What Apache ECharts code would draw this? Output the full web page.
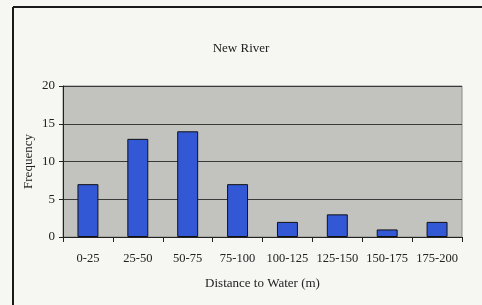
<!DOCTYPE html>
<html style="height: 100%">
<head>
    <meta charset="utf-8">
</head>
<body style="height: 100%; margin: 0; background: #f6f6f3">
<div id="river_container" style="height: 305px;width: 482px"></div>
<script src="https://cdn.jsdelivr.net/npm/echarts@6/dist/echarts.min.js"></script>
<script type="text/javascript">
    var categories = ['0-25', '25-50', '50-75', '75-100', '100-125', '125-150', '150-175', '175-200'];
    var frequency = [7, 13, 14, 7, 2, 3, 1, 2];
    var yTicks = [0, 5, 10, 15, 20];

    var river_dom = document.getElementById("river_container");
    var river_chart = echarts.init(river_dom);
    var river_font = '"Liberation Serif", "DejaVu Serif", serif';

    var river_option = {
        backgroundColor: '#f6f6f3',
        animation: false,
        title: {
            text: 'New River',
            left: 'center',
            top: 37,
            textStyle: {
                fontFamily: river_font,
                fontSize: 13,
                fontWeight: 'normal',
                color: '#222'
            }
        },
        // frame: left + top lines
        graphic: [
            { type: 'line', shape: { x1: 13, y1: 7, x2: 482, y2: 7 }, style: { stroke: '#1a1a1a', lineWidth: 2 } },
            { type: 'line', shape: { x1: 13, y1: 7, x2: 13, y2: 305 }, style: { stroke: '#1a1a1a', lineWidth: 2 } }
        ],
        grid: {
            left: 63,
            right: 20,
            top: 86,
            bottom: 68,
            show: true,
            backgroundColor: '#c2c2be',
            borderColor: '#8a8a88',
            borderWidth: 1
        },
        xAxis: {
            type: 'category',
            data: categories,
            name: 'Distance to Water (m)',
            nameLocation: 'middle',
            nameGap: 40,
            nameTextStyle: { fontFamily: river_font, fontSize: 13, color: '#222' },
            axisLine: { lineStyle: { color: '#222', width: 1 } },
            axisTick: { show: true, length: 5, lineStyle: { color: '#222' } },
            axisLabel: { interval: 0, fontFamily: river_font, fontSize: 12.5, color: '#222', margin: 15 }
        },
        yAxis: {
            type: 'value',
            min: yTicks[0],
            max: yTicks[yTicks.length - 1],
            interval: yTicks[1] - yTicks[0],
            name: 'Frequency',
            nameLocation: 'middle',
            nameGap: 28,
            nameMoveOverlap: false,
            nameTextStyle: { fontFamily: river_font, fontSize: 13, color: '#222' },
            axisLine: { show: true, lineStyle: { color: '#222', width: 1 } },
            axisTick: { show: true, length: 4, lineStyle: { color: '#222' } },
            axisLabel: { fontFamily: river_font, fontSize: 13, color: '#222', margin: 8 },
            splitLine: { show: true, lineStyle: { color: '#3a3a3a', width: 1 } }
        },
        series: [{
            type: 'bar',
            data: frequency,
            barWidth: '42%',
            itemStyle: {
                color: '#3358d6',
                borderColor: '#111',
                borderWidth: 1
            }
        }]
    };

    river_chart.setOption(river_option, true);
</script>
</body>
</html>
